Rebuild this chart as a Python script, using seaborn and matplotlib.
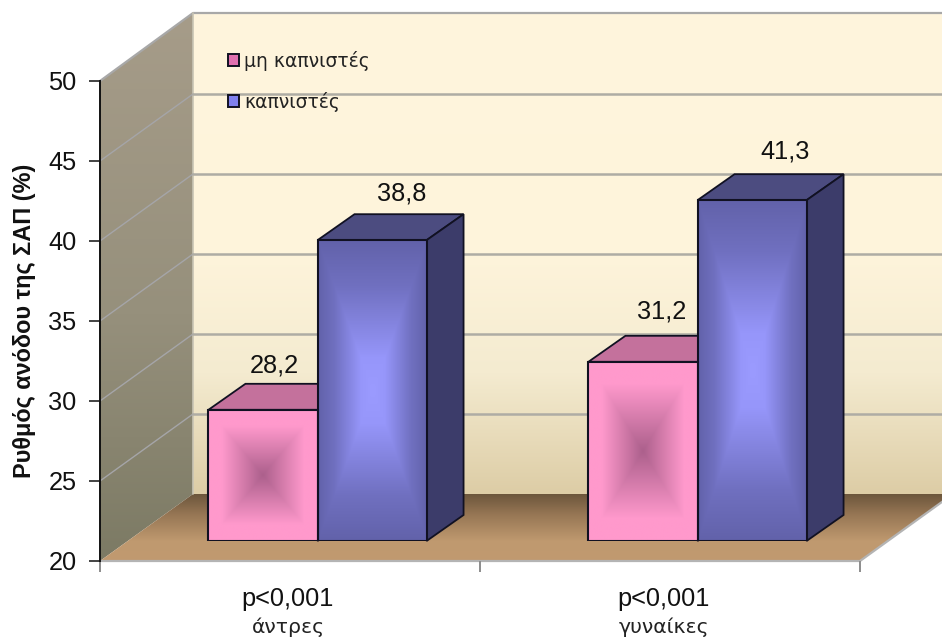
import numpy as np
import pandas as pd
import matplotlib
matplotlib.use("Agg")
import matplotlib.pyplot as plt
import seaborn as sns
from matplotlib.colors import LinearSegmentedColormap
from matplotlib.patches import Patch, Polygon
from matplotlib.transforms import Affine2D, IdentityTransform

groups = ["άντρες", "γυναίκες"]
series = ["μη καπνιστές", "καπνιστές"]
non_smokers = [28.2, 31.2]
smokers = [38.8, 41.3]
p_labels = ["p<0,001", "p<0,001"]
y_ticks = [20, 25, 30, 35, 40, 45, 50]

W, H = 942, 639
AX_L, AX_R, AX_T, AX_B = 100, 860, 81, 561
WALL_DX, WALL_DY = 93, 67
BAR_DX, BAR_DY = 27.5, 20
BAR_DEPTH = np.array([37.0, 26.0])

sns.set_theme(style="white")
plt.rcParams["font.family"] = ["Liberation Sans", "DejaVu Sans"]


def axes_box(left, right, top, bottom):
    return [left / W, 1 - bottom / H, (right - left) / W, (bottom - top) / H]


def ramp(*stops):
    return LinearSegmentedColormap.from_list("", [(p, tuple(c / 255 for c in rgb)) for p, rgb in stops])


fig = plt.figure(figsize=(W / 100, H / 100), dpi=100, facecolor="white")

# Room: back wall, left wall and floor, all in pixel units
scene = fig.add_axes([0, 0, 1, 1])
scene.set_axis_off()
back_l, back_t, back_b = AX_L + WALL_DX, AX_T - WALL_DY - 1, AX_B - WALL_DY
vertical = np.linspace(0, 1, 256).reshape(-1, 1)

scene.imshow(vertical, extent=(back_l, W + 12, back_b, back_t), aspect="auto", zorder=1,
             cmap=ramp((0, (255, 245, 221)), (0.5, (254, 244, 219)), (0.75, (244, 235, 208)), (1, (221, 205, 166))))

left_pts = [(AX_L, AX_B), (back_l, back_b), (back_l, back_t), (AX_L, AX_T)]
left_im = scene.imshow(vertical, extent=(AX_L, back_l, AX_B, back_t), aspect="auto", zorder=1,
                       cmap=ramp((0, (166, 156, 137)), (0.55, (150, 144, 124)), (1, (124, 122, 100))))
left_im.set_clip_path(Polygon(left_pts, transform=scene.transData))

floor_pts = [(AX_L, AX_B), (AX_R, AX_B), (AX_R + WALL_DX, back_b), (back_l, back_b)]
floor_im = scene.imshow(vertical, extent=(AX_L, AX_R + WALL_DX, AX_B, back_b), aspect="auto", zorder=1,
                        cmap=ramp((0, (108, 86, 60)), (0.3, (150, 118, 84)), (0.7, (191, 153, 111)), (1, (193, 154, 112))))
floor_im.set_clip_path(Polygon(floor_pts, transform=scene.transData))
scene.plot([AX_L, AX_R, AX_R + WALL_DX], [AX_B, AX_B, back_b], color="#b4b4b4", lw=1.6, zorder=2)
scene.plot([AX_L, back_l, W], [AX_T, back_t, back_t], color="#a8a8a8", lw=1.6, zorder=2)
scene.plot([back_l, back_l], [back_t, back_b], color="#c8c4b4", lw=1.2, zorder=2)
scene.set_xlim(0, W)
scene.set_ylim(H, 0)

# Value axis with its ticks; the categories sit between the major x ticks
ax = fig.add_axes(axes_box(AX_L, AX_R, AX_T, AX_B))
ax.patch.set_alpha(0)
ax.set_xlim(-0.5, 1.5)
ax.set_ylim(20, 50)
ax.set_yticks(y_ticks)
ax.set_xticks([-0.5, 0.5, 1.5])
ax.set_xticklabels([])
ax.set_xticks([0, 1], labels=p_labels, minor=True)
ax.tick_params(axis="x", which="major", length=8, width=1.4, color="#8c8c8c", bottom=True)
ax.tick_params(axis="x", which="minor", length=0, pad=18.5, labelsize=18.3, labelcolor="#111111", bottom=False)
ax.tick_params(axis="y", length=8, width=1.2, color="#222222", left=True, labelsize=18.3, labelcolor="#111111", pad=9)
tick_nudge = [-2, -6]
for label, nudge in zip(ax.get_xticklabels(minor=True), tick_nudge):
    label.set_transform(label.get_transform() + Affine2D().translate(nudge, 0))
for side in ("top", "right"):
    ax.spines[side].set_visible(False)
ax.spines["left"].set_color("#111111")
ax.spines["left"].set_linewidth(1.4)
ax.spines["bottom"].set_visible(False)
ax.set_ylabel("Ρυθμός ανόδου της ΣΑΠ (%)", fontsize=16.9, fontweight="bold", color="#111111", labelpad=9)
ax.set_xlabel("")
for i, name in enumerate(groups):
    ax.annotate(name, xy=(i, 20), xycoords="data", xytext=(tick_nudge[i], -72), textcoords="offset pixels",
                ha="center", va="baseline", fontsize=14.7, family="DejaVu Sans", color="#222222")

# Gridlines follow the value scale across the left wall and the back wall
for tick in y_ticks[1:-1]:
    _, py = ax.transData.transform((0, tick))
    row = H - py
    scene.plot([AX_L, back_l], [row, row - WALL_DY], color="#a5a5a8", lw=1.0, zorder=2)
    scene.plot([back_l, W], [row - WALL_DY, row - WALL_DY], color="#aeaca4", lw=1.8, zorder=2)
scene.set_xlim(0, W)
scene.set_ylim(H, 0)

# Bars sit part-way into the room, so their axes is shifted from the value axis
bar_ax = fig.add_axes(axes_box(AX_L + BAR_DX, AX_R + BAR_DX, AX_T - BAR_DY, AX_B - BAR_DY))
bar_ax.patch.set_alpha(0)
frame = pd.DataFrame({
    "group": groups * 2,
    "series": [series[0]] * 2 + [series[1]] * 2,
    "value": non_smokers + smokers,
})
sns.barplot(data=frame, x="group", y="value", hue="series", hue_order=series, order=groups,
            palette=["#ff99cc", "#6666b0"], width=0.574, gap=0, legend=False, ax=bar_ax)
bar_ax.set_xlim(-0.5, 1.5)
bar_ax.set_ylim(20, 50)
bar_ax.set_axis_off()

front_maps = [
    ramp((0, (172, 96, 140)), (0.75, (255, 153, 204)), (1, (255, 153, 204))),
    ramp((0, (155, 155, 255)), (0.22, (150, 150, 250)), (0.7, (112, 112, 192)), (1, (98, 98, 170))),
]
top_colors = ["#c4719c", "#4c4c80"]
side_colors = ["#9a5a80", "#3c3c6a"]
u, v = np.meshgrid(np.linspace(-1, 1, 201), np.linspace(-1, 1, 201))
box = np.maximum(np.abs(u), np.abs(v))

for s, container in enumerate(bar_ax.containers):
    for bar in container:
        x0, x1 = bar.get_x(), bar.get_x() + bar.get_width()
        y1 = bar.get_height()
        y0 = 20
        bar_ax.imshow(box, extent=(x0, x1, y0, y1), aspect="auto", cmap=front_maps[s],
                      vmin=0, vmax=1, zorder=3, origin="lower")
        bar.set_facecolor("none")
        bar.set_edgecolor("#111122")
        bar.set_linewidth(1.5)
        bar.set_y(y0)
        bar.set_height(y1 - y0)
        bar.set_zorder(4)
        p00, p10, p11, p01 = bar_ax.transData.transform([(x0, y0), (x1, y0), (x1, y1), (x0, y1)])
        top = [p01, p11, p11 + BAR_DEPTH, p01 + BAR_DEPTH]
        side = [p10, p10 + BAR_DEPTH, p11 + BAR_DEPTH, p11]
        for pts, color in ((top, top_colors[s]), (side, side_colors[s])):
            bar_ax.add_patch(Polygon(pts, closed=True, transform=IdentityTransform(), facecolor=color,
                                     edgecolor="#111122", lw=1.3, zorder=2, clip_on=False))
bar_ax.set_xlim(-0.5, 1.5)
bar_ax.set_ylim(20, 50)

# Value labels, written with a decimal comma
label_shift = [[(11, 44), (19, 50)], [(30, 47), (33, 49)]]
for s, values in enumerate((non_smokers, smokers)):
    for g, value in enumerate(values):
        bar = bar_ax.containers[s][g]
        dx, dy = label_shift[s][g]
        bar_ax.annotate(f"{value:.1f}".replace(".", ","), xy=(bar.get_x() + bar.get_width() / 2, value),
                        xytext=(dx, dy), textcoords="offset pixels", ha="center", va="center",
                        fontsize=18.3, color="#111111", annotation_clip=False, zorder=5)

handles = [
    Patch(facecolor="#e070b0", edgecolor="#111122", lw=1.4),
    Patch(facecolor="#8080ee", edgecolor="#111122", lw=1.4),
]
legend = fig.legend(handles, series, loc="upper left", bbox_to_anchor=(222 / W, 1 - 45 / H),
                    frameon=False, fontsize=13.5, handlelength=0.59, handleheight=0.59,
                    handletextpad=0.27, labelspacing=1.12, borderpad=0.3, borderaxespad=0)
for text in legend.get_texts():
    text.set_family("DejaVu Sans")
    text.set_color("#222222")

fig.savefig("out.png", dpi=100, facecolor="white")
